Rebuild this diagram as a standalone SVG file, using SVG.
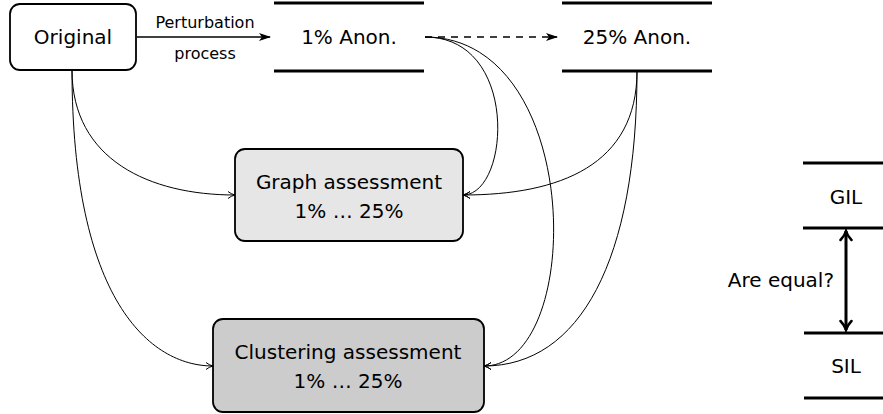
<svg xmlns="http://www.w3.org/2000/svg" width="883" height="414" viewBox="0 0 883 414">
<defs>
<style>
text{font-family:"DejaVu Sans","Liberation Sans",sans-serif;fill:#000}
.big{font-size:20px}
.small{font-size:16px}
.bar{stroke:#000;stroke-width:3;fill:none}
.box{stroke:#000;stroke-width:1.8}
.thin{stroke:#000;stroke-width:1;fill:none;marker-end:url(#to)}
</style>
<marker id="to" viewBox="0 0 10 10" refX="9" refY="5" markerWidth="10" markerHeight="10" markerUnits="userSpaceOnUse" orient="auto">
<path d="M2,1.5 Q5,4 9,5 Q5,6 2,8.5" fill="none" stroke="#000" stroke-width="1"/>
</marker>
<marker id="stealth" viewBox="0 0 12 10" refX="11" refY="5" markerWidth="12" markerHeight="10" markerUnits="userSpaceOnUse" orient="auto">
<path d="M0,1 L12,5 L0,9 L3,5 Z" fill="#000"/>
</marker>
<marker id="thickr" viewBox="0 0 14 14" refX="12" refY="7" markerWidth="14" markerHeight="14" markerUnits="userSpaceOnUse" orient="auto-start-reverse">
<path d="M3,1.5 Q7,5.5 12,7 Q7,8.5 3,12.5" fill="none" stroke="#000" stroke-width="2.5" stroke-linecap="round"/>
</marker>
</defs>
<rect width="883" height="414" fill="#fff"/>
<g id="connectors">
<path d="M137,37 H270" stroke="#000" stroke-width="1.3" fill="none" marker-end="url(#stealth)"/>
<path d="M425,37 H557" stroke="#000" stroke-width="1.3" stroke-dasharray="7,6" fill="none" marker-end="url(#stealth)"/>
<path class="thin" d="M72,70 C72,160 150,195 235,195"/>
<path class="thin" d="M72,70 C72,300 150,366 213,366"/>
<path class="thin" d="M425,37 C520,37 510,195 463,195"/>
<path class="thin" d="M425,37 C585,37 585,366 484,366"/>
<path class="thin" d="M637,71 C637,165 560,195 463,195"/>
<path class="thin" d="M637,71 C637,260 580,366 484,366"/>
<path d="M846,231 V330" stroke="#000" stroke-width="3" fill="none" marker-start="url(#thickr)" marker-end="url(#thickr)"/>
</g>
<g id="label-perturbation">
<text class="small" x="205" y="28" text-anchor="middle">Perturbation</text>
<text class="small" x="205" y="59" text-anchor="middle">process</text>
</g>
<g id="original">
<rect class="box" x="10" y="4" width="126" height="66" rx="10" fill="#fff"/>
<text class="big" x="73" y="44" text-anchor="middle">Original</text>
</g>
<g id="anon1">
<path class="bar" d="M274,3 H424 M274,71 H424"/>
<text class="big" x="349" y="44" text-anchor="middle">1% Anon.</text>
</g>
<g id="anon25">
<path class="bar" d="M562,3 H712 M562,71 H712"/>
<text class="big" x="637" y="44" text-anchor="middle">25% Anon.</text>
</g>
<g id="graph">
<rect class="box" x="235" y="149" width="228" height="92" rx="10" fill="#e6e6e6"/>
<text class="big" x="349" y="189" text-anchor="middle">Graph assessment</text>
<text class="big" x="349" y="218" text-anchor="middle">1% … 25%</text>
</g>
<g id="clustering">
<rect class="box" x="213" y="319" width="271" height="93" rx="10" fill="#cccccc"/>
<text class="big" x="348" y="359" text-anchor="middle">Clustering assessment</text>
<text class="big" x="348" y="388" text-anchor="middle">1% … 25%</text>
</g>
<g id="gil">
<path class="bar" d="M803,163 H883 M803,228 H883"/>
<text class="big" x="846" y="204" text-anchor="middle">GIL</text>
</g>
<g id="sil">
<path class="bar" d="M804,333 H883 M804,398 H883"/>
<text class="big" x="846" y="373" text-anchor="middle">SIL</text>
</g>
<g id="label-equal">
<text class="big" x="834" y="287" text-anchor="end">Are equal?</text>
</g>
</svg>
